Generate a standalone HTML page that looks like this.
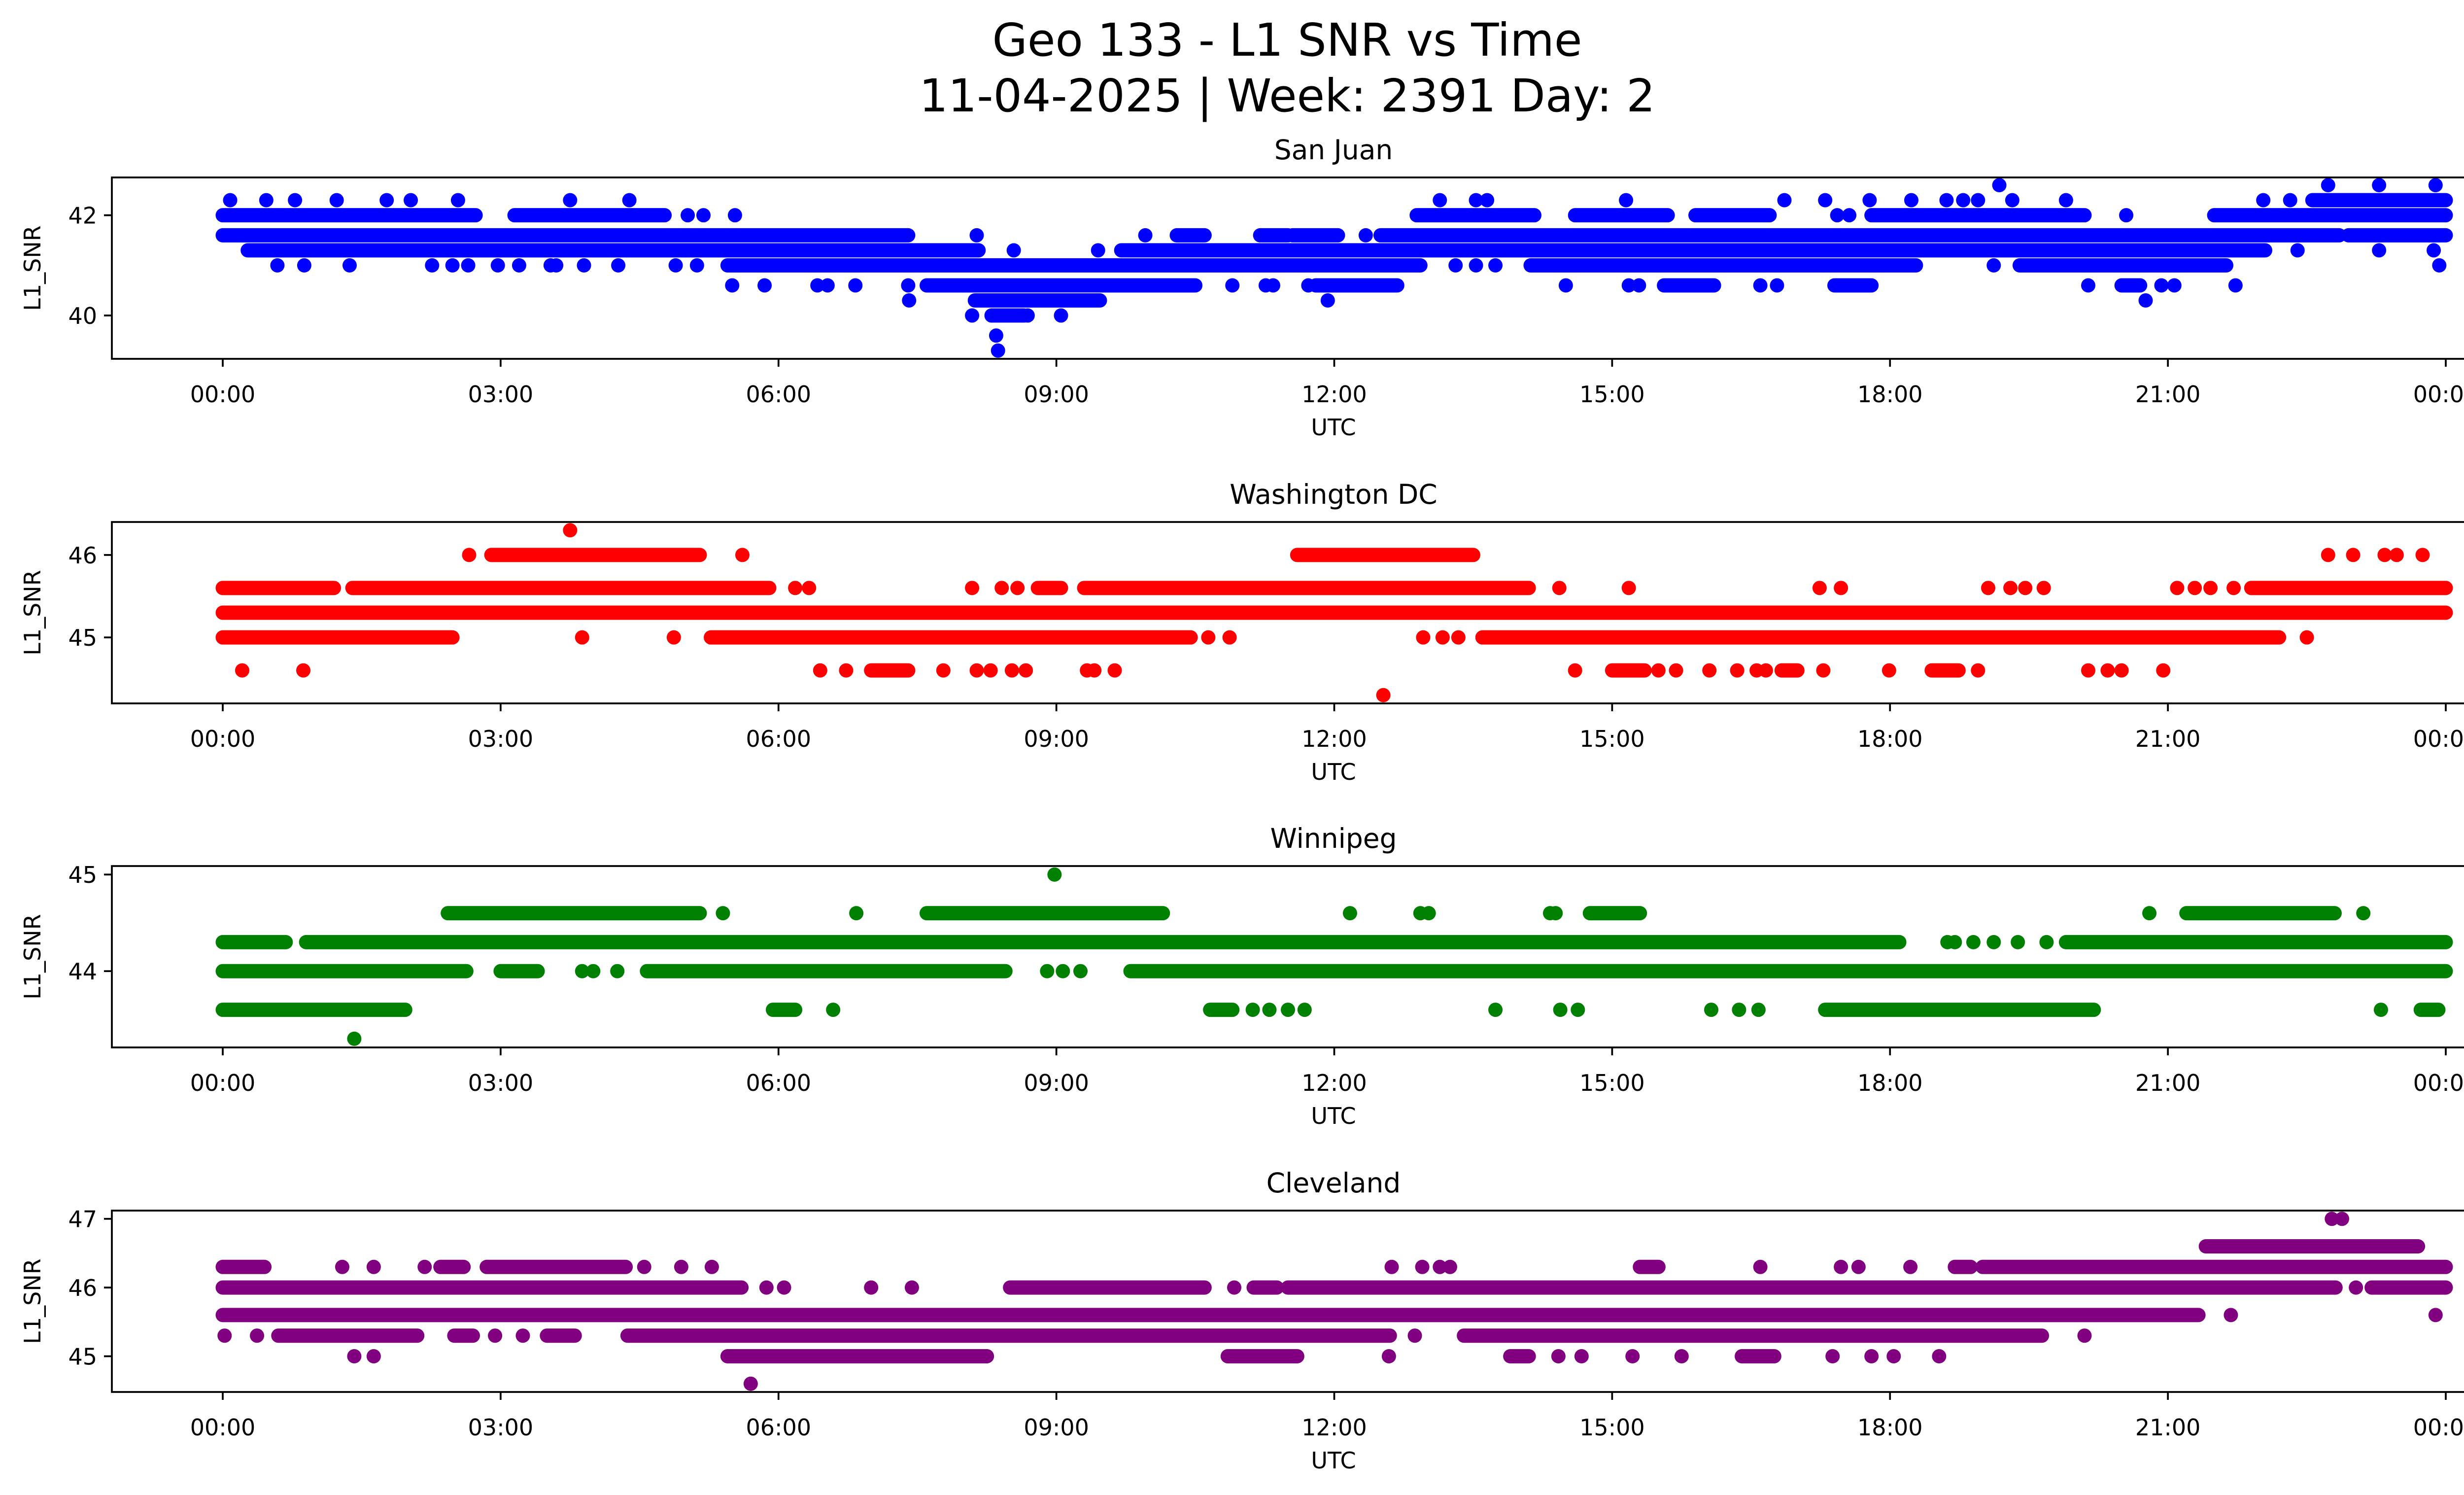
<!DOCTYPE html>
<html><head><meta charset="utf-8"><title>Geo 133 - L1 SNR vs Time</title>
<style>html,body{margin:0;padding:0;background:#fff}svg{display:block}text{font-family:"DejaVu Sans","Liberation Sans",sans-serif;fill:#000}</style>
</head><body>
<svg id="fig" xmlns="http://www.w3.org/2000/svg" width="5225" height="3033" viewBox="0 0 5225 3033">
<rect x="0" y="0" width="5225" height="3033" fill="#fff"/>
<text x="2612" y="113" font-size="92" text-anchor="middle">Geo 133 - L1 SNR vs Time</text>
<text x="2612" y="226" font-size="92" text-anchor="middle">11-04-2025 | Week: 2391 Day: 2</text>
</svg>
<script>
// ---- data (hours UTC, SNR levels) ----
const xTickLabels = ["00:00","03:00","06:00","09:00","12:00","15:00","18:00","21:00","00:00"];
const xTickHours = [0,3,6,9,12,15,18,21,24];

const stationNames = ["San Juan","Washington DC","Winnipeg","Cleveland"];
const stationColors = ["#0000ff","#ff0000","#008000","#800080"];
const yLimits = [[39.135,42.754],[44.2,46.4],[43.21,45.088],[44.48,47.12]];
const yTicks = [[40,42],[45,46],[44,45],[45,46,47]];

const sjRuns = [[42.3,22.56,24],[42,0,2.73],[42,3.15,4.77],[42,12.89,14.16],[42,14.6,15.6],[42,15.9,16.7],[42,17.8,20.1],[42,21.5,24],
[41.6,0,7.4],[41.6,10.3,10.6],[41.6,11.2,11.5],[41.6,11.55,12.04],[41.6,12.5,22.85],[41.6,22.95,24],
[41.3,0.27,8.16],[41.3,9.7,22.05],[41,5.45,12.93],[41,14.12,18.28],[41,19.4,21.63],
[40.6,7.6,10.5],[40.6,11.8,12.68],[40.6,15.56,16.1],[40.6,17.4,17.8],[40.6,20.5,20.7],
[40.3,8.12,9.47],[40,8.3,8.65]];
const sjPoints = [[42.6,19.18],[42.6,22.73],[42.6,23.28],[42.6,23.89],
[42.3,0.08],[42.3,0.47],[42.3,0.78],[42.3,1.23],[42.3,1.77],[42.3,2.03],[42.3,2.54],[42.3,3.75],[42.3,4.39],[42.3,13.14],[42.3,13.53],[42.3,13.65],[42.3,15.15],[42.3,16.86],[42.3,17.3],[42.3,17.78],[42.3,18.23],[42.3,18.61],[42.3,18.79],[42.3,18.95],[42.3,19.32],[42.3,19.9],[42.3,22.03],[42.3,22.32],
[42,5.02],[42,5.19],[42,5.53],[42,17.43],[42,17.56],[42,20.55],
[41.6,8.14],[41.6,9.96],[41.6,12.34],
[41.3,8.54],[41.3,9.45],[41.3,22.4],[41.3,23.28],[41.3,23.87],
[41,0.59],[41,0.88],[41,1.37],[41,2.26],[41,2.48],[41,2.65],[41,2.97],[41,3.2],[41,3.54],[41,3.6],[41,3.9],[41,4.27],[41,4.89],[41,5.12],[41,13.31],[41,13.53],[41,13.74],[41,19.12],[41,23.93],
[40.6,5.5],[40.6,5.85],[40.6,6.42],[40.6,6.53],[40.6,6.83],[40.6,7.4],[40.6,10.9],[40.6,11.26],[40.6,11.34],[40.6,11.72],[40.6,14.5],[40.6,15.18],[40.6,15.29],[40.6,16.6],[40.6,16.78],[40.6,20.14],[40.6,20.93],[40.6,21.07],[40.6,21.73],
[40.3,7.41],[40.3,11.93],[40.3,20.76],[40,8.09],[40,8.69],[40,9.05],[39.6,8.35],[39.3,8.37]];

const dcRuns = [[46,2.9,5.15],[46,11.6,13.5],[45.6,0,1.2],[45.6,1.4,5.9],[45.6,8.8,9.05],[45.6,9.3,14.1],[45.6,21.9,24],
[45.3,0,24],[45,0,2.48],[45,5.27,10.45],[45,13.6,22.2],
[44.6,7.0,7.4],[44.6,15.0,15.35],[44.6,16.83,17.0],[44.6,18.45,18.74]];
const dcPoints = [[46.3,3.75],[46,2.66],[46,5.61],[46,22.73],[46,23.0],[46,23.34],[46,23.47],[46,23.75],
[45.6,6.18],[45.6,6.33],[45.6,8.09],[45.6,8.41],[45.6,8.58],[45.6,14.43],[45.6,15.18],[45.6,17.24],[45.6,17.47],[45.6,19.06],[45.6,19.3],[45.6,19.46],[45.6,19.66],[45.6,21.1],[45.6,21.29],[45.6,21.46],[45.6,21.71],
[45,3.88],[45,4.87],[45,10.64],[45,10.87],[45,12.96],[45,13.17],[45,13.34],[45,22.5],
[44.6,0.21],[44.6,0.87],[44.6,6.45],[44.6,6.73],[44.6,7.78],[44.6,8.14],[44.6,8.29],[44.6,8.52],[44.6,8.67],[44.6,9.33],[44.6,9.41],[44.6,9.63],[44.6,14.6],[44.6,15.5],[44.6,15.69],[44.6,16.05],[44.6,16.35],[44.6,16.56],[44.6,16.66],[44.6,17.28],[44.6,17.99],[44.6,18.95],[44.6,20.14],[44.6,20.35],[44.6,20.5],[44.6,20.95],
[44.3,12.53]];

const wpRuns = [[44.6,2.43,5.15],[44.6,7.6,10.15],[44.6,14.76,15.3],[44.6,21.2,22.8],
[44.3,0,0.68],[44.3,0.9,18.1],[44.3,19.9,24],
[44,0,2.63],[44,3.0,3.4],[44,4.58,8.45],[44,9.8,24],
[43.6,0,1.97],[43.6,5.94,6.18],[43.6,10.66,10.9],[43.6,17.3,20.2],[43.6,23.73,23.92]];
const wpPoints = [[45,8.98],[44.6,5.4],[44.6,6.84],[44.6,12.17],[44.6,12.93],[44.6,13.02],[44.6,14.33],[44.6,14.39],[44.6,20.8],[44.6,23.11],
[44.3,18.62],[44.3,18.7],[44.3,18.9],[44.3,19.12],[44.3,19.38],[44.3,19.69],
[44,3.88],[44,4.0],[44,4.26],[44,8.9],[44,9.07],[44,9.26],
[43.6,6.59],[43.6,11.12],[43.6,11.3],[43.6,11.5],[43.6,11.68],[43.6,13.74],[43.6,14.44],[43.6,14.63],[43.6,16.07],[43.6,16.37],[43.6,16.58],[43.6,23.3],
[43.3,1.42]];

const clRuns = [[46.6,21.41,23.7],
[46.3,0,0.45],[46.3,2.35,2.6],[46.3,2.85,4.35],[46.3,15.3,15.5],[46.3,18.7,18.87],[46.3,19.0,24],
[46,0,5.6],[46,8.5,10.6],[46,11.13,11.38],[46,11.5,22.81],[46,23.2,24],
[45.6,0,21.33],
[45.3,0.6,2.1],[45.3,2.5,2.7],[45.3,3.5,3.8],[45.3,4.37,12.6],[45.3,13.4,19.64],
[45,5.45,8.25],[45,10.85,11.6],[45,13.9,14.1],[45,16.4,16.75]];
const clPoints = [[47,22.77],[47,22.88],
[46.3,1.29],[46.3,1.63],[46.3,2.18],[46.3,4.55],[46.3,4.95],[46.3,5.28],[46.3,12.62],[46.3,12.95],[46.3,13.14],[46.3,13.25],[46.3,16.6],[46.3,17.47],[46.3,17.66],[46.3,18.22],
[46,5.87],[46,6.06],[46,7.0],[46,7.44],[46,10.92],[46,23.03],
[45.6,21.68],[45.6,23.89],
[45.3,0.02],[45.3,0.37],[45.3,2.94],[45.3,3.24],[45.3,12.87],[45.3,20.1],
[45,1.42],[45,1.63],[45,12.59],[45,14.42],[45,14.67],[45,15.22],[45,15.75],[45,17.38],[45,17.8],[45,18.04],[45,18.53],
[44.6,5.7]];

const allRuns = [sjRuns, dcRuns, wpRuns, clRuns];
const allPoints = [sjPoints, dcPoints, wpPoints, clPoints];

// ---- layout ----
const NS = "http://www.w3.org/2000/svg";
const svg = document.getElementById('fig');
const AX_L = 227, AX_R = 5185, X0 = 452, X1 = 4963;
const panelTop = [360, 1059, 1757, 2456];
const panelH = 368;
const R = 14.5;
function xScale(h){ return X0 + (X1 - X0) * h / 24; }
function yScale(i, v){ const [lo,hi]=yLimits[i]; return panelTop[i] + panelH * (hi - v) / (hi - lo); }
function mk(tag, attrs, parent){ const e=document.createElementNS(NS,tag); for(const k in attrs) e.setAttribute(k, attrs[k]); (parent||svg).appendChild(e); return e; }

for (let i = 0; i < 4; i++) {
  const top = panelTop[i], bot = top + panelH;
  const g = mk('g', {});
  
  
  const clipId = 'clip' + i;
  const cp = mk('clipPath', {id: clipId}, g);
  mk('rect', {x: AX_L, y: top, width: AX_R - AX_L, height: panelH}, cp);
  const marks = mk('g', {'clip-path': 'url(#' + clipId + ')'}, g);
  
  
  const col = stationColors[i];
  allRuns[i].forEach(r => {
    const ln = mk('line', {x1: xScale(r[1]), x2: xScale(r[2]), y1: yScale(i, r[0]), y2: yScale(i, r[0]), stroke: col, 'stroke-width': 2*R, 'stroke-linecap': 'round'}, marks);
    
    
  });
  allPoints[i].forEach(p => {
    const c = mk('circle', {cx: xScale(p[1]), cy: yScale(i, p[0]), r: R, fill: col}, marks);
    
    
  });
  const frame = mk('rect', {x: AX_L, y: top, width: AX_R - AX_L, height: panelH, fill: 'none', stroke: '#000', 'stroke-width': 3.7}, g);
  
  
  xTickHours.forEach((h, k) => {
    const x = xScale(h);
    const t = mk('line', {x1: x, x2: x, y1: bot, y2: bot + 16, stroke: '#000', 'stroke-width': 3.7}, g);
    
    
    const tl = mk('text', {x: x, y: bot + 88, 'font-size': 46, 'text-anchor': 'middle'}, g);
    
    
    tl.textContent = xTickLabels[k];
  });
  yTicks[i].forEach(v => {
    const y = yScale(i, v);
    const t = mk('line', {x1: AX_L - 16, x2: AX_L, y1: y, y2: y, stroke: '#000', 'stroke-width': 3.7}, g);
    
    
    const tl = mk('text', {x: AX_L - 30, y: y + 17, 'font-size': 46, 'text-anchor': 'end'}, g);
    
    
    tl.textContent = String(v);
  });
  const xl = mk('text', {x: (AX_L + AX_R)/2, y: bot + 155, 'font-size': 46, 'text-anchor': 'middle'}, g);
  
  
  xl.textContent = 'UTC';
  const cy = top + panelH/2;
  const yl = mk('text', {x: 82, y: cy, 'font-size': 46, 'text-anchor': 'middle', transform: 'rotate(-90 82 ' + cy + ')'}, g);
  
  
  yl.textContent = 'L1_SNR';
  const st = mk('text', {x: (AX_L + AX_R)/2, y: top - 37, 'font-size': 55, 'text-anchor': 'middle'}, g);
  
  
  st.textContent = stationNames[i];
}
</script>
</body></html>
